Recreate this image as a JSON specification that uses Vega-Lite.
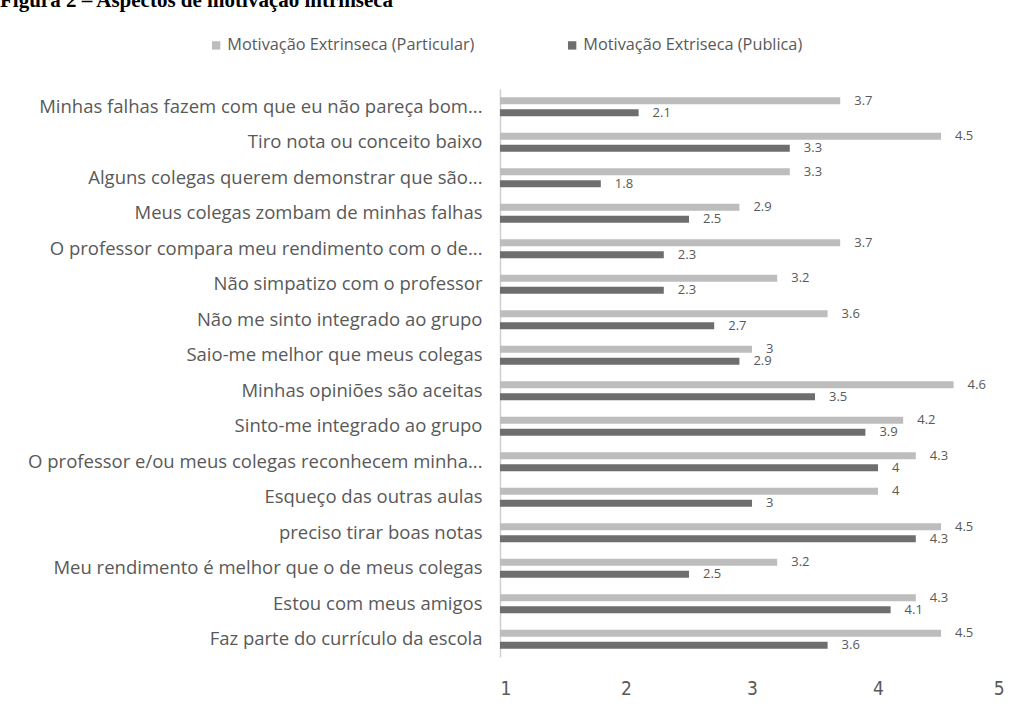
{
  "$schema": "https://vega.github.io/schema/vega-lite/v6.json",
  "autosize": {"type": "none"},
  "width": 504,
  "height": 568,
  "padding": {"left": 500, "top": 89, "right": 21, "bottom": 49},
  "background": "white",
  "title": {
    "text": "Figura 2 – Aspectos de motivação intrínseca",
    "anchor": "start",
    "frame": "group",
    "font": "Liberation Serif",
    "fontSize": 21,
    "fontWeight": "bold",
    "color": "#000000",
    "dx": -500,
    "dy": -5,
    "baseline": "bottom",
    "offset": 0
  },
  "config": {
    "view": {"stroke": null},
    "font": "Open Sans"
  },
  "data": {
    "values": [
      {"item": "Minhas falhas fazem com que eu não pareça bom...", "serie": "Motivação Extrinseca (Particular)", "valor": 3.7},
      {"item": "Minhas falhas fazem com que eu não pareça bom...", "serie": "Motivação Extriseca (Publica)", "valor": 2.1},
      {"item": "Tiro nota ou conceito baixo", "serie": "Motivação Extrinseca (Particular)", "valor": 4.5},
      {"item": "Tiro nota ou conceito baixo", "serie": "Motivação Extriseca (Publica)", "valor": 3.3},
      {"item": "Alguns colegas querem demonstrar que são...", "serie": "Motivação Extrinseca (Particular)", "valor": 3.3},
      {"item": "Alguns colegas querem demonstrar que são...", "serie": "Motivação Extriseca (Publica)", "valor": 1.8},
      {"item": "Meus colegas zombam de minhas falhas", "serie": "Motivação Extrinseca (Particular)", "valor": 2.9},
      {"item": "Meus colegas zombam de minhas falhas", "serie": "Motivação Extriseca (Publica)", "valor": 2.5},
      {"item": "O professor compara meu rendimento com o de...", "serie": "Motivação Extrinseca (Particular)", "valor": 3.7},
      {"item": "O professor compara meu rendimento com o de...", "serie": "Motivação Extriseca (Publica)", "valor": 2.3},
      {"item": "Não simpatizo com o professor", "serie": "Motivação Extrinseca (Particular)", "valor": 3.2},
      {"item": "Não simpatizo com o professor", "serie": "Motivação Extriseca (Publica)", "valor": 2.3},
      {"item": "Não me sinto integrado ao grupo", "serie": "Motivação Extrinseca (Particular)", "valor": 3.6},
      {"item": "Não me sinto integrado ao grupo", "serie": "Motivação Extriseca (Publica)", "valor": 2.7},
      {"item": "Saio-me melhor que meus colegas", "serie": "Motivação Extrinseca (Particular)", "valor": 3},
      {"item": "Saio-me melhor que meus colegas", "serie": "Motivação Extriseca (Publica)", "valor": 2.9},
      {"item": "Minhas opiniões são aceitas", "serie": "Motivação Extrinseca (Particular)", "valor": 4.6},
      {"item": "Minhas opiniões são aceitas", "serie": "Motivação Extriseca (Publica)", "valor": 3.5},
      {"item": "Sinto-me integrado ao grupo", "serie": "Motivação Extrinseca (Particular)", "valor": 4.2},
      {"item": "Sinto-me integrado ao grupo", "serie": "Motivação Extriseca (Publica)", "valor": 3.9},
      {"item": "O professor e/ou meus colegas reconhecem minha...", "serie": "Motivação Extrinseca (Particular)", "valor": 4.3},
      {"item": "O professor e/ou meus colegas reconhecem minha...", "serie": "Motivação Extriseca (Publica)", "valor": 4},
      {"item": "Esqueço das outras aulas", "serie": "Motivação Extrinseca (Particular)", "valor": 4},
      {"item": "Esqueço das outras aulas", "serie": "Motivação Extriseca (Publica)", "valor": 3},
      {"item": "preciso tirar boas notas", "serie": "Motivação Extrinseca (Particular)", "valor": 4.5},
      {"item": "preciso tirar boas notas", "serie": "Motivação Extriseca (Publica)", "valor": 4.3},
      {"item": "Meu rendimento é melhor que o de meus colegas", "serie": "Motivação Extrinseca (Particular)", "valor": 3.2},
      {"item": "Meu rendimento é melhor que o de meus colegas", "serie": "Motivação Extriseca (Publica)", "valor": 2.5},
      {"item": "Estou com meus amigos", "serie": "Motivação Extrinseca (Particular)", "valor": 4.3},
      {"item": "Estou com meus amigos", "serie": "Motivação Extriseca (Publica)", "valor": 4.1},
      {"item": "Faz parte do currículo da escola", "serie": "Motivação Extrinseca (Particular)", "valor": 4.5},
      {"item": "Faz parte do currículo da escola", "serie": "Motivação Extriseca (Publica)", "valor": 3.6}
    ]
  },
  "encoding": {
    "y": {
      "field": "item",
      "type": "nominal",
      "sort": null,
      "scale": {"paddingInner": 0.46, "paddingOuter": 0.23},
      "axis": {
        "title": null,
        "ticks": false,
        "labelFontSize": 18.5,
        "labelColor": "#595959",
        "labelPadding": 18,
        "labelLimit": 600,
        "domainColor": "#d0d0d0",
        "domainWidth": 1.5
      }
    },
    "yOffset": {
      "field": "serie",
      "type": "nominal",
      "scale": {"paddingInner": 0.4, "paddingOuter": 0}
    },
    "x": {
      "field": "valor",
      "type": "quantitative",
      "scale": {"domain": [1, 5], "zero": false, "nice": false},
      "axis": {
        "title": null,
        "values": [1, 2, 3, 4, 5],
        "domain": false,
        "ticks": false,
        "grid": false,
        "labelFontSize": 19,
        "labelColor": "#595959",
        "labelPadding": 22,
        "labelFont": "DejaVu Sans Condensed",
        "labelFontWeight": 300
      }
    }
  },
  "layer": [
    {
      "mark": {"type": "bar"},
      "encoding": {
        "x2": {"datum": 1},
        "color": {
          "field": "serie",
          "type": "nominal",
          "scale": {"range": ["#bdbdbd", "#6e6e6e"]},
          "legend": {
            "title": null,
            "orient": "none",
            "direction": "horizontal",
            "legendX": -292,
            "legendY": -52,
            "symbolType": "square",
            "symbolSize": 70,
            "symbolStrokeWidth": 0,
            "labelFontSize": 16.3,
            "labelColor": "#595959",
            "labelOffset": 3,
            "columnPadding": 89,
            "labelLimit": 400
          }
        }
      }
    },
    {
      "mark": {"type": "text", "align": "left", "baseline": "middle", "dx": 14, "fontSize": 13, "color": "#595959"},
      "encoding": {
        "text": {"field": "valor", "type": "quantitative"}
      }
    }
  ]
}
